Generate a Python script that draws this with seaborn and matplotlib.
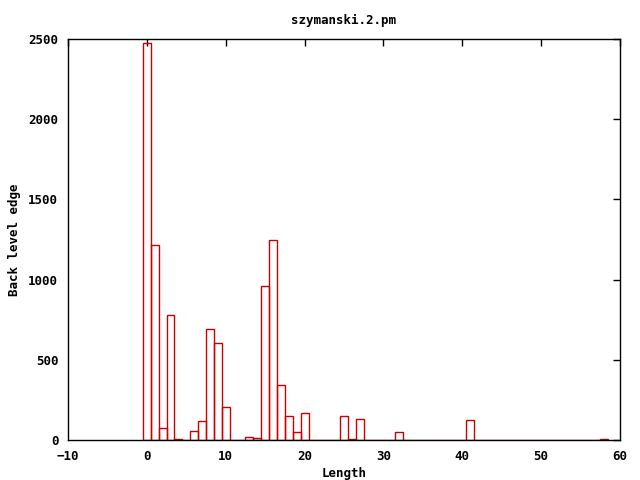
import matplotlib
matplotlib.use("Agg")
import matplotlib.pyplot as plt
import seaborn as sns
import pandas as pd

lengths = [0, 1, 2, 3, 4, 6, 7, 8, 9, 10, 13, 14, 15, 16, 17, 18, 19, 20, 25, 26, 27, 32, 41, 58]
counts = [2473, 1214, 73, 777, 5, 54, 118, 690, 603, 204, 20, 12, 958, 1245, 343, 148, 50, 166, 148, 6, 129, 48, 123, 5]
x_ticks = [-10, 0, 10, 20, 30, 40, 50, 60]
y_ticks = [0, 500, 1000, 1500, 2000, 2500]

df = pd.DataFrame({"Length": lengths, "count": counts})

sns.set_style("white")
plt.rcParams["font.family"] = ["DejaVu Sans Mono"]
plt.rcParams["font.weight"] = "bold"
plt.rcParams["text.color"] = "black"
plt.rcParams["axes.labelcolor"] = "black"

fig = plt.figure(figsize=(6.4, 4.8), dpi=100)
ax = fig.add_axes([68 / 640, 40 / 480, 552 / 640, 401 / 480])

sns.histplot(data=df, x="Length", weights="count", discrete=True, fill=False,
             element="bars", color="#cc0000", linewidth=1.0, ax=ax)

ax.set_xlim(-10, 60)
ax.set_ylim(0, 2500)
ax.set_xticks(x_ticks)
ax.set_yticks(y_ticks)
ax.tick_params(direction="in", length=5, width=1, top=True, right=True,
               labelsize=9, pad=7, colors="black", labelcolor="black")
for lab in ax.get_xticklabels() + ax.get_yticklabels():
    lab.set_fontweight("bold")
for s in ax.spines.values():
    s.set_visible(True)
    s.set_color("black")
    s.set_linewidth(1)

ax.set_xlabel("Length", fontsize=9, fontweight="bold", labelpad=3, color="black")
ax.set_ylabel("Back level edge", fontsize=9, fontweight="bold", labelpad=5, color="black")
ax.set_title("szymanski.2.pm", fontsize=9, fontweight="bold", pad=11, color="black")

fig.savefig("out.png", dpi=100)
